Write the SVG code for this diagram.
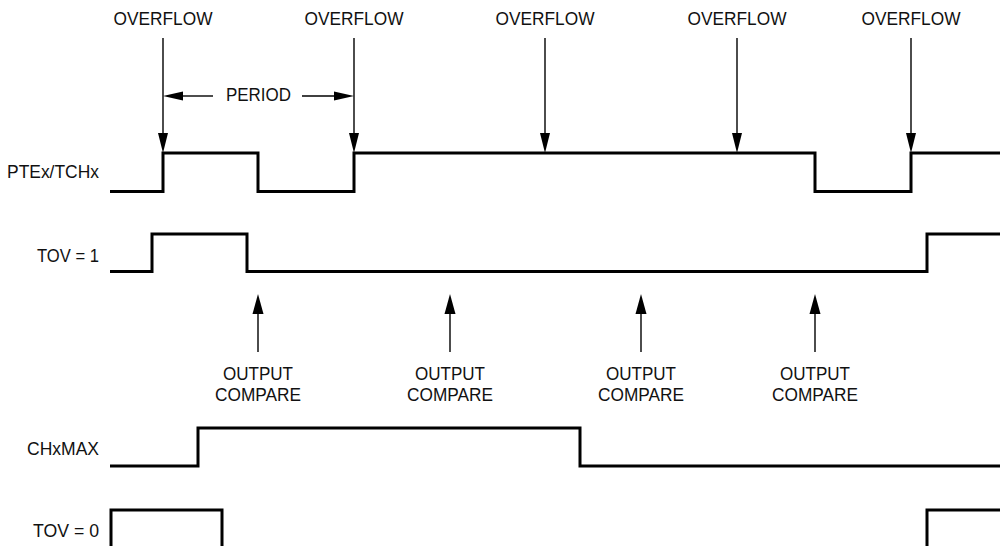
<svg xmlns="http://www.w3.org/2000/svg" width="1000" height="546" viewBox="0 0 1000 546">
<style>
  text { font-family: "Liberation Sans", Arial, sans-serif; font-size: 19px; fill: #111; }
  .c { text-anchor: middle; }
  .e { text-anchor: end; }
  .sig { fill: none; stroke: #000; stroke-width: 3; stroke-linejoin: miter; stroke-linecap: butt; }
  .arr { fill: none; stroke: #000; stroke-width: 1.4; }
  .head { fill: #000; stroke: none; }
</style>
<rect width="1000" height="546" fill="#fff"/>

<g id="labels">
  <text class="e" x="99" y="178" textLength="92" lengthAdjust="spacingAndGlyphs">PTEx/TCHx</text>
  <text class="e" x="99" y="262" textLength="62" lengthAdjust="spacingAndGlyphs">TOV = 1</text>
  <text class="e" x="99" y="455" textLength="72" lengthAdjust="spacingAndGlyphs">CHxMAX</text>
  <text class="e" x="99" y="537" textLength="66" lengthAdjust="spacingAndGlyphs">TOV = 0</text>
</g>

<g id="signal-ptex">
  <path class="sig" d="M110,191.5 H163 V153 H258 V191.5 H354 V153 H815 V191.5 H911 V153 H1000"/>
</g>
<g id="signal-tov1">
  <path class="sig" d="M110,271.5 H152 V234 H247 V271.5 H927 V234 H1000"/>
</g>
<g id="signal-chxmax">
  <path class="sig" d="M110,466 H198 V428 H580 V466 H1000"/>
</g>
<g id="signal-tov0">
  <path class="sig" d="M111,548 V510 H222 V548"/>
  <path class="sig" d="M927,548 V510 H1000"/>
</g>

<g id="overflow-labels">
  <text class="c" x="163" y="25" textLength="99" lengthAdjust="spacingAndGlyphs">OVERFLOW</text>
  <text class="c" x="354" y="25" textLength="99" lengthAdjust="spacingAndGlyphs">OVERFLOW</text>
  <text class="c" x="545" y="25" textLength="99" lengthAdjust="spacingAndGlyphs">OVERFLOW</text>
  <text class="c" x="737" y="25" textLength="99" lengthAdjust="spacingAndGlyphs">OVERFLOW</text>
  <text class="c" x="911" y="25" textLength="99" lengthAdjust="spacingAndGlyphs">OVERFLOW</text>
</g>

<g id="period">
  <text class="c" x="258.5" y="101" textLength="65" lengthAdjust="spacingAndGlyphs">PERIOD</text>
</g>

<g id="compare-labels">
  <text class="c" x="258" y="380" textLength="70" lengthAdjust="spacingAndGlyphs">OUTPUT</text>
  <text class="c" x="258" y="401" textLength="86" lengthAdjust="spacingAndGlyphs">COMPARE</text>
  <text class="c" x="450" y="380" textLength="70" lengthAdjust="spacingAndGlyphs">OUTPUT</text>
  <text class="c" x="450" y="401" textLength="86" lengthAdjust="spacingAndGlyphs">COMPARE</text>
  <text class="c" x="641" y="380" textLength="70" lengthAdjust="spacingAndGlyphs">OUTPUT</text>
  <text class="c" x="641" y="401" textLength="86" lengthAdjust="spacingAndGlyphs">COMPARE</text>
  <text class="c" x="815" y="380" textLength="70" lengthAdjust="spacingAndGlyphs">OUTPUT</text>
  <text class="c" x="815" y="401" textLength="86" lengthAdjust="spacingAndGlyphs">COMPARE</text>
</g>

<g id="connectors">
  <!-- overflow arrows (down) -->
  <g>
    <line class="arr" x1="163" y1="38" x2="163" y2="134"/>
    <polygon class="head" points="158,133 168,133 163,153"/>
    <line class="arr" x1="354" y1="38" x2="354" y2="134"/>
    <polygon class="head" points="349,133 359,133 354,153"/>
    <line class="arr" x1="545" y1="38" x2="545" y2="134"/>
    <polygon class="head" points="540,133 550,133 545,153"/>
    <line class="arr" x1="737" y1="38" x2="737" y2="134"/>
    <polygon class="head" points="732,133 742,133 737,153"/>
    <line class="arr" x1="911" y1="38" x2="911" y2="134"/>
    <polygon class="head" points="906,133 916,133 911,153"/>
  </g>
  <!-- period arrows -->
  <g>
    <line class="arr" x1="182" y1="96" x2="213" y2="96"/>
    <polygon class="head" points="163,96 183,91.5 183,100.5"/>
    <line class="arr" x1="302" y1="96" x2="335" y2="96"/>
    <polygon class="head" points="354,96 334,91.5 334,100.5"/>
  </g>
  <!-- output compare arrows (up) -->
  <g>
    <line class="arr" x1="258" y1="313" x2="258" y2="352"/>
    <polygon class="head" points="252.5,314 263.5,314 258,294"/>
    <line class="arr" x1="450" y1="313" x2="450" y2="352"/>
    <polygon class="head" points="444.5,314 455.5,314 450,294"/>
    <line class="arr" x1="641" y1="313" x2="641" y2="352"/>
    <polygon class="head" points="635.5,314 646.5,314 641,294"/>
    <line class="arr" x1="815" y1="313" x2="815" y2="352"/>
    <polygon class="head" points="809.5,314 820.5,314 815,294"/>
  </g>
</g>
</svg>
